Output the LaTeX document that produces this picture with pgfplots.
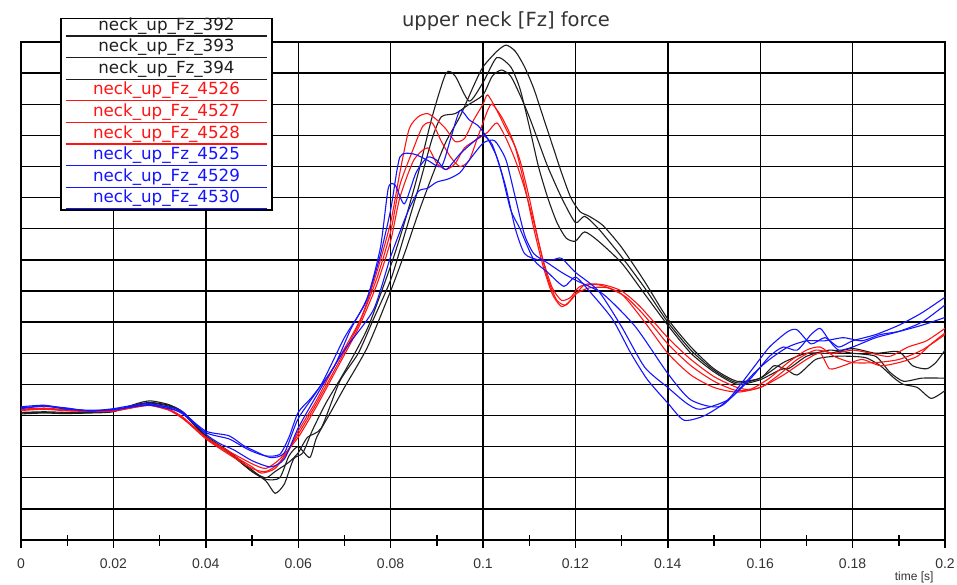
\documentclass[border=0pt]{standalone}
\usepackage{pgfplots}
\pgfplotsset{compat=1.18}
\usepackage{fontspec}
\setmainfont{Liberation Sans}
\newfontfamily\dejavu{DejaVu Sans}
\definecolor{cblk}{HTML}{1E1E1E}
\definecolor{cred}{HTML}{FF1414}
\definecolor{cblu}{HTML}{1414FF}
\definecolor{txtgray}{HTML}{333333}
\begin{document}
\begin{tikzpicture}
\begin{axis}[
  scale only axis, width=924pt, height=498pt,
  xmin=0, xmax=0.2, ymin=0, ymax=16,
  xtick={0,0.02,0.04,0.06,0.08,0.1,0.12,0.14,0.16,0.18,0.2},
  xticklabels={0,0.02,0.04,0.06,0.08,0.1,0.12,0.14,0.16,0.18,0.2},
  minor xtick={0.01,0.03,0.05,0.07,0.09,0.11,0.13,0.15,0.17,0.19},
  ytick={0,1,2,3,4,5,6,7,8,9,10,11,12,13,14,15,16},
  yticklabels={},
  grid=major,
  major grid style={black, line width=1.4pt},
  axis line style={black, line width=1.4pt},
  xtick pos=bottom, ytick pos=left,
  tick align=center,
  x tick style={black, line width=1.4pt},
  major x tick style={black, line width=1.4pt},
  minor x tick style={black, line width=1.4pt},
  y tick style={draw=none},
  major tick length=16pt, minor tick length=11pt,
  /pgf/number format/assume math mode=true,
  xticklabel style={font=\fontsize{14}{14}\selectfont, text=txtgray, yshift=-7pt},
  every axis plot/.append style={line width=1.1pt, smooth, tension=0.4},
]
\coordinate (NW) at (rel axis cs:0,1);
\coordinate (SW) at (rel axis cs:0,0);
\coordinate (SE) at (rel axis cs:1,0);
\coordinate (NE) at (rel axis cs:1,1);
% black 392
\addplot[cblk] coordinates {(0,4.08)(0.005,4.1)(0.01,4.07)(0.015,4.08)(0.02,4.12)(0.025,4.38)(0.028,4.47)(0.032,4.35)(0.035,4.1)(0.04,3.3)(0.045,2.8)(0.05,2.2)(0.053,1.9)(0.055,1.5)(0.057,1.8)(0.059,2.6)(0.061,2.8)(0.063,3.5)(0.066,4.4)(0.07,5.4)(0.075,6.8)(0.08,8.8)(0.083,10.2)(0.086,11.8)(0.089,13.6)(0.092,15.0)(0.094,14.9)(0.097,14.1)(0.1,14.7)(0.103,15.5)(0.106,15.2)(0.108,14.5)(0.11,13.3)(0.112,12.0)(0.114,11.0)(0.116,10.2)(0.118,9.7)(0.12,9.6)(0.122,9.9)(0.125,9.6)(0.13,8.9)(0.135,7.9)(0.14,6.9)(0.145,6.0)(0.15,5.4)(0.155,5.0)(0.16,5.15)(0.165,5.5)(0.168,5.3)(0.172,5.8)(0.176,5.9)(0.18,5.9)(0.183,5.85)(0.186,5.6)(0.189,5.2)(0.191,5.0)(0.194,4.9)(0.197,4.55)(0.2,4.8)};
% black 393
\addplot[cblk] coordinates {(0,4.1)(0.005,4.12)(0.01,4.1)(0.015,4.1)(0.02,4.15)(0.025,4.35)(0.028,4.42)(0.032,4.33)(0.035,4.12)(0.04,3.35)(0.045,2.85)(0.05,2.25)(0.053,1.95)(0.056,2.0)(0.058,2.7)(0.06,3.0)(0.0625,2.65)(0.064,3.3)(0.067,4.1)(0.07,4.9)(0.075,6.2)(0.08,8.0)(0.083,9.2)(0.086,10.5)(0.089,11.7)(0.092,12.8)(0.095,13.6)(0.098,14.6)(0.1,15.2)(0.103,15.7)(0.105,15.9)(0.107,15.7)(0.109,15.2)(0.111,14.5)(0.113,13.6)(0.115,12.7)(0.117,11.8)(0.119,11.0)(0.121,10.55)(0.123,10.4)(0.126,10.1)(0.13,9.4)(0.135,8.3)(0.14,7.1)(0.145,6.2)(0.15,5.5)(0.155,5.1)(0.16,5.2)(0.163,5.6)(0.166,5.5)(0.17,5.9)(0.175,6.1)(0.18,6.0)(0.185,5.9)(0.188,5.4)(0.191,5.1)(0.195,5.2)(0.2,5.2)};
% black 394
\addplot[cblk] coordinates {(0,4.05)(0.005,4.08)(0.01,4.06)(0.015,4.1)(0.02,4.14)(0.025,4.32)(0.028,4.4)(0.032,4.3)(0.035,4.08)(0.04,3.3)(0.045,2.8)(0.05,2.2)(0.053,2.0)(0.055,2.2)(0.058,2.5)(0.06,2.8)(0.062,3.3)(0.065,3.6)(0.069,5.1)(0.073,6.0)(0.0763,7.1)(0.08,8.35)(0.083,9.8)(0.086,11.3)(0.089,12.9)(0.091,13.6)(0.094,13.7)(0.097,14.0)(0.1,14.3)(0.102,14.9)(0.104,15.1)(0.106,14.9)(0.108,14.3)(0.11,13.6)(0.112,12.8)(0.114,12.0)(0.117,11.0)(0.12,10.2)(0.122,10.4)(0.125,10.0)(0.13,9.1)(0.135,8.1)(0.14,7.0)(0.145,6.1)(0.15,5.45)(0.155,5.05)(0.16,5.2)(0.165,5.7)(0.17,6.0)(0.175,6.0)(0.18,6.15)(0.185,6.0)(0.19,6.05)(0.193,5.6)(0.196,5.5)(0.198,5.7)(0.2,6.1)};
% red 4526
\addplot[cred] coordinates {(0,4.18)(0.005,4.22)(0.01,4.16)(0.015,4.14)(0.02,4.16)(0.025,4.3)(0.028,4.35)(0.032,4.2)(0.035,3.95)(0.04,3.3)(0.045,2.8)(0.05,2.35)(0.052,2.15)(0.055,2.3)(0.058,2.9)(0.06,3.5)(0.064,4.5)(0.0677,5.55)(0.0735,7.1)(0.077,8.6)(0.08,10.2)(0.082,11.8)(0.084,13.2)(0.086,13.6)(0.088,13.7)(0.09,13.5)(0.092,13.2)(0.094,12.8)(0.096,12.9)(0.098,13.5)(0.1,14.0)(0.101,14.3)(0.103,13.8)(0.105,13.2)(0.107,12.6)(0.109,11.4)(0.111,10.0)(0.113,8.8)(0.115,7.9)(0.117,7.5)(0.119,7.7)(0.122,8.2)(0.126,8.2)(0.13,8.0)(0.134,7.5)(0.14,6.5)(0.145,5.8)(0.15,5.25)(0.155,4.9)(0.158,4.85)(0.162,5.2)(0.166,5.7)(0.17,6.1)(0.173,6.2)(0.176,5.9)(0.18,5.7)(0.185,5.7)(0.19,5.8)(0.195,6.1)(0.2,6.6)};
% red 4527
\addplot[cred] coordinates {(0,4.2)(0.005,4.24)(0.01,4.18)(0.015,4.15)(0.02,4.15)(0.025,4.28)(0.028,4.33)(0.032,4.18)(0.035,3.92)(0.04,3.25)(0.045,2.75)(0.05,2.3)(0.053,2.2)(0.056,2.5)(0.06,3.4)(0.064,4.4)(0.068,5.5)(0.073,6.9)(0.077,8.4)(0.08,9.9)(0.082,11.4)(0.085,12.6)(0.087,13.3)(0.089,13.4)(0.091,12.8)(0.093,12.3)(0.095,12.0)(0.097,12.2)(0.099,13.0)(0.101,13.8)(0.102,14.0)(0.104,13.6)(0.106,13.0)(0.108,12.2)(0.11,11.0)(0.112,9.6)(0.114,8.4)(0.116,7.7)(0.118,7.55)(0.12,7.9)(0.123,8.1)(0.127,8.1)(0.131,7.8)(0.135,7.2)(0.14,6.3)(0.145,5.6)(0.15,5.1)(0.155,4.8)(0.16,4.9)(0.164,5.3)(0.168,5.8)(0.172,6.1)(0.176,6.0)(0.18,6.1)(0.184,6.0)(0.188,5.9)(0.192,6.2)(0.196,6.4)(0.2,6.8)};
% red 4528
\addplot[cred] coordinates {(0,4.16)(0.005,4.2)(0.01,4.15)(0.015,4.13)(0.02,4.14)(0.025,4.27)(0.028,4.32)(0.032,4.17)(0.035,3.9)(0.04,3.3)(0.045,2.85)(0.05,2.45)(0.053,2.3)(0.056,2.6)(0.06,3.3)(0.064,4.3)(0.068,5.4)(0.073,6.8)(0.077,8.2)(0.08,9.6)(0.082,11.0)(0.085,12.2)(0.088,12.6)(0.09,12.1)(0.092,11.9)(0.094,12.1)(0.096,12.6)(0.099,12.9)(0.101,13.1)(0.103,13.4)(0.105,12.9)(0.107,12.2)(0.109,11.3)(0.111,10.2)(0.113,9.0)(0.115,8.1)(0.117,7.7)(0.119,7.8)(0.121,8.15)(0.125,8.2)(0.13,7.9)(0.135,7.0)(0.14,6.0)(0.145,5.3)(0.15,4.9)(0.155,4.75)(0.16,4.9)(0.165,5.3)(0.17,5.8)(0.173,6.0)(0.175,5.5)(0.178,5.6)(0.182,5.8)(0.186,5.6)(0.19,5.7)(0.194,5.9)(0.197,6.3)(0.2,6.65)};
% blue 4525
\addplot[cblu] coordinates {(0,4.28)(0.005,4.33)(0.01,4.22)(0.015,4.15)(0.02,4.22)(0.025,4.35)(0.028,4.38)(0.032,4.25)(0.035,4.05)(0.04,3.45)(0.045,3.25)(0.048,3.0)(0.05,2.85)(0.053,2.7)(0.056,2.75)(0.058,3.3)(0.06,4.1)(0.063,4.6)(0.0677,5.55)(0.0713,6.75)(0.075,7.8)(0.0778,9.4)(0.0795,11.3)(0.081,11.4)(0.083,10.8)(0.0855,11.8)(0.088,12.3)(0.09,12.2)(0.092,11.9)(0.095,12.4)(0.098,12.8)(0.1,13.0)(0.102,12.7)(0.104,11.8)(0.106,10.6)(0.108,10.0)(0.111,9.0)(0.114,8.6)(0.1175,8.15)(0.12,8.45)(0.123,8.0)(0.128,7.1)(0.132,6.0)(0.1356,5.15)(0.14,4.4)(0.1435,3.85)(0.148,4.0)(0.153,4.5)(0.1586,5.55)(0.162,6.2)(0.166,6.7)(0.168,6.75)(0.171,6.3)(0.174,6.5)(0.177,6.2)(0.18,6.4)(0.185,6.6)(0.19,6.9)(0.195,7.3)(0.2,7.8)};
% blue 4529
\addplot[cblu] coordinates {(0,4.22)(0.005,4.3)(0.01,4.2)(0.015,4.17)(0.02,4.18)(0.025,4.3)(0.028,4.33)(0.032,4.22)(0.035,4.08)(0.04,3.5)(0.045,3.35)(0.048,3.05)(0.05,2.9)(0.054,2.65)(0.057,2.8)(0.06,3.9)(0.065,5.0)(0.07,6.5)(0.0745,7.6)(0.0775,9.0)(0.08,10.6)(0.082,12.3)(0.085,12.4)(0.088,12.2)(0.091,12.0)(0.093,12.9)(0.095,13.8)(0.097,13.5)(0.099,13.3)(0.101,12.9)(0.103,12.3)(0.105,11.3)(0.107,10.0)(0.109,9.2)(0.112,9.0)(0.115,9.0)(0.117,9.05)(0.12,8.6)(0.125,8.0)(0.13,6.85)(0.135,5.55)(0.14,4.9)(0.144,4.4)(0.147,4.2)(0.153,4.5)(0.158,5.2)(0.162,5.9)(0.165,6.2)(0.168,6.1)(0.171,6.6)(0.173,6.8)(0.175,6.4)(0.177,6.1)(0.18,6.2)(0.185,6.5)(0.19,6.7)(0.195,7.0)(0.2,7.55)};
% blue 4530
\addplot[cblu] coordinates {(0,4.25)(0.005,4.3)(0.01,4.24)(0.015,4.14)(0.02,4.2)(0.025,4.3)(0.028,4.35)(0.032,4.27)(0.035,4.12)(0.04,3.4)(0.043,3.1)(0.046,2.9)(0.05,2.55)(0.054,2.35)(0.057,2.6)(0.06,3.6)(0.065,4.9)(0.07,6.1)(0.0763,7.4)(0.08,9.1)(0.0836,10.5)(0.086,11.2)(0.088,11.3)(0.09,11.5)(0.0925,11.6)(0.095,11.8)(0.097,12.2)(0.1,12.75)(0.102,12.85)(0.103,12.75)(0.105,12.2)(0.107,11.0)(0.109,9.8)(0.111,9.2)(0.114,8.9)(0.117,8.6)(0.12,8.35)(0.126,7.9)(0.133,6.85)(0.14,5.35)(0.145,4.5)(0.1515,4.3)(0.1586,5.35)(0.162,5.8)(0.166,6.2)(0.17,6.4)(0.174,6.4)(0.178,6.5)(0.182,6.4)(0.186,6.6)(0.19,6.7)(0.195,6.9)(0.2,7.15)};
\end{axis}
% title
\node[anchor=base, font=\dejavu\fontsize{19.5}{20}\selectfont, text=txtgray] at ([xshift=485pt, yshift=15pt]NW) {upper neck [Fz] force};
% x label
\node[anchor=base east, font=\fontsize{12}{12}\selectfont, text=txtgray] at ([xshift=-8pt, yshift=-40pt]SE) {time [s]};
% legend
\coordinate (LTL) at ([xshift=40pt,yshift=23.7pt]NW);
\draw[black, line width=1.4pt, fill=white] (LTL) rectangle ++(211pt,-191.7pt);
\foreach \i/\nm/\col in {0/392/cblk,1/393/cblk,2/394/cblk,3/4526/cred,4/4527/cred,5/4528/cred,6/4525/cblu,7/4529/cblu,8/4530/cblu} {
  \draw[\col, line width=1.3pt] ([xshift=4.7pt, yshift={-17.7pt-21.6pt*\i}]LTL) -- ++(201pt,0);
  \node[anchor=base, inner sep=0pt, text=\col, font=\dejavu\fontsize{16.7}{17}\selectfont] at ([xshift=105.5pt, yshift={-11.8pt-21.6pt*\i}]LTL) {neck\_up\_Fz\_\nm};
}
\pgfresetboundingbox
\path[use as bounding box] ([xshift=-21pt,yshift=-44pt]SW) rectangle ([xshift=12pt,yshift=42pt]NE);
\end{tikzpicture}
\end{document}
